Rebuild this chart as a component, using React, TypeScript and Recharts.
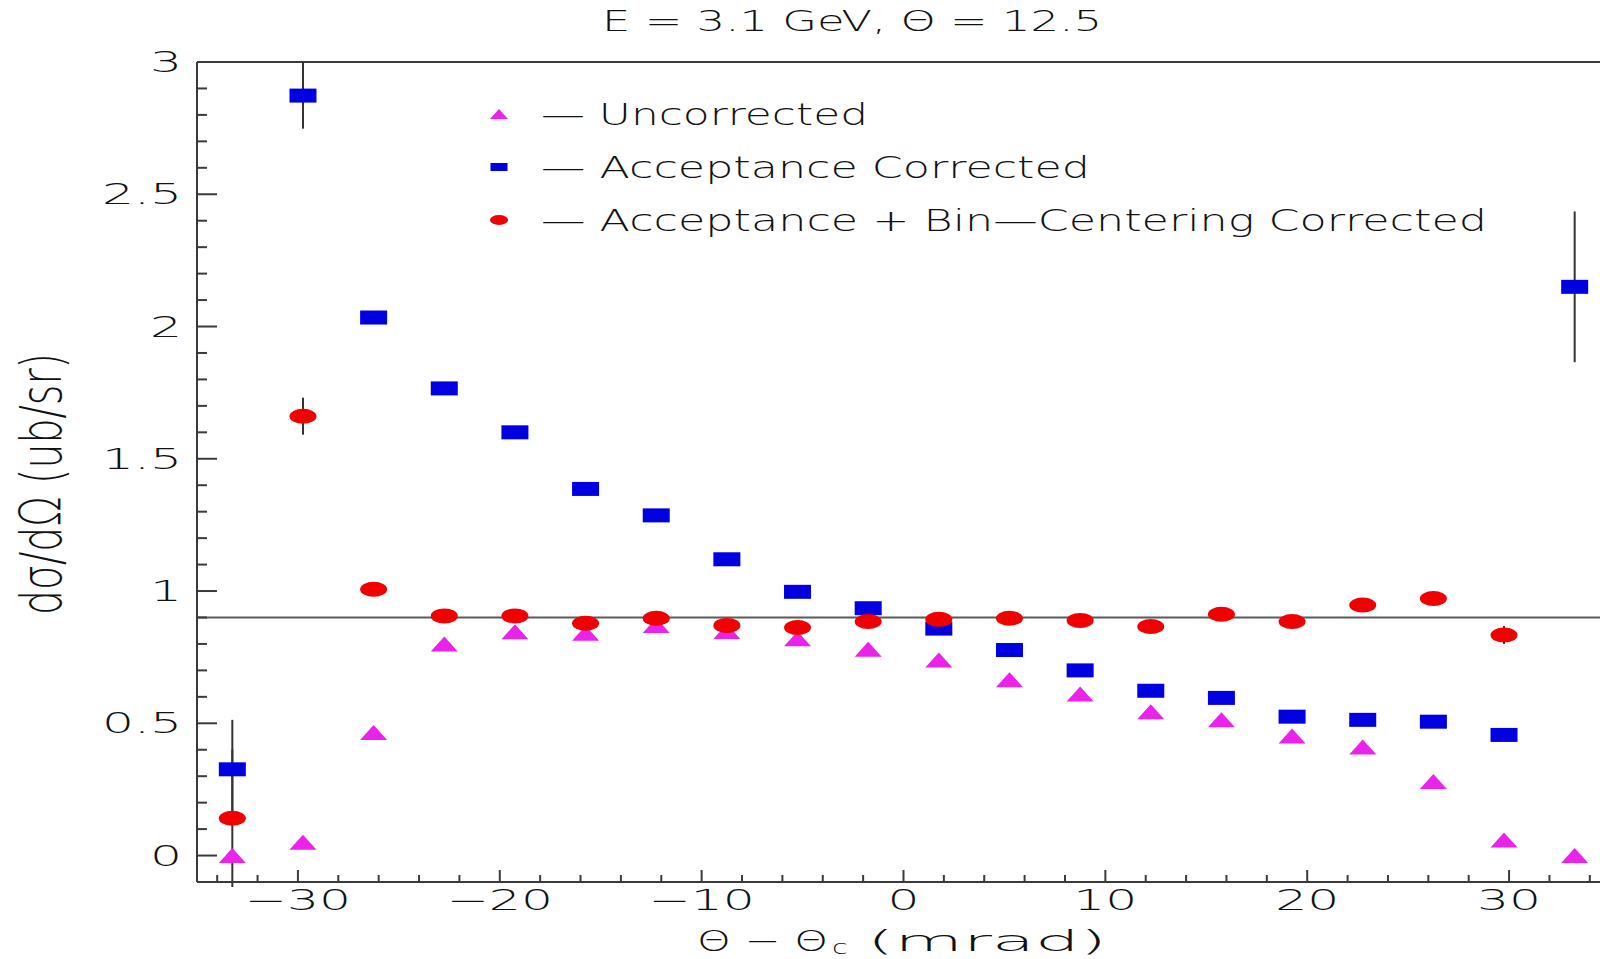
import React from "react";
import {
  ScatterChart,
  Scatter,
  XAxis,
  YAxis,
  ReferenceLine,
  ErrorBar,
} from "recharts";

// bin centres in mrad (3.5 mrad bins)
const binCenters = [
  -33.25, -29.75, -26.25, -22.75, -19.25, -15.75, -12.25, -8.75, -5.25, -1.75,
  1.75, 5.25, 8.75, 12.25, 15.75, 19.25, 22.75, 26.25, 29.75, 33.25,
];

const uncorrected = [
  0.0, 0.05, 0.465, 0.8, 0.846, 0.84, 0.87, 0.847, 0.82, 0.78, 0.739, 0.665,
  0.611, 0.544, 0.513, 0.452, 0.41, 0.28, 0.059, 0.0,
];

const acceptance = [
  0.326, 2.873, 2.034, 1.766, 1.6, 1.386, 1.286, 1.12, 0.997, 0.935, 0.858,
  0.777, 0.7, 0.623, 0.596, 0.525, 0.513, 0.506, 0.456, 2.15,
];
const acceptanceErr = [
  0.187, 0.125, 0, 0, 0, 0, 0, 0, 0, 0, 0, 0, 0, 0, 0, 0, 0, 0, 0, 0.285,
];

const binCentered = [
  0.141, 1.661, 1.007, 0.906, 0.906, 0.878, 0.897, 0.87, 0.862, 0.885, 0.893,
  0.897, 0.889, 0.866, 0.912, 0.885, 0.947, 0.972, 0.834, null,
];
const binCenteredErr = [
  0.26, 0.07, 0, 0, 0, 0, 0, 0, 0, 0, 0, 0, 0, 0, 0, 0, 0, 0, 0.034, 0,
];

const xTicks = [
  -34, -32, -30, -28, -26, -24, -22, -20, -18, -16, -14, -12, -10, -8, -6, -4,
  -2, 0, 2, 4, 6, 8, 10, 12, 14, 16, 18, 20, 22, 24, 26, 28, 30, 32, 34,
];
const yTicks = [
  0, 0.1, 0.2, 0.3, 0.4, 0.5, 0.6, 0.7, 0.8, 0.9, 1, 1.1, 1.2, 1.3, 1.4, 1.5,
  1.6, 1.7, 1.8, 1.9, 2, 2.1, 2.2, 2.3, 2.4, 2.5, 2.6, 2.7, 2.8, 2.9, 3,
];

const referenceLevel = 0.9;
const legendLabels = [
  "— Uncorrected",
  "— Acceptance Corrected",
  "— Acceptance + Bin—Centering Corrected",
];
const legendWidths = [327, 549, 946];

const MAGENTA = "#ea22ea";
const BLUE = "#0000e0";
const RED = "#f00000";
const AXIS = "#3a3a3a";
const FONT = "DejaVu Sans";
const WEIGHT = 200;

const toPoints = (vals: (number | null)[], errs?: number[]) =>
  binCenters
    .map((x, i) => ({ x, y: vals[i], err: errs ? errs[i] : 0 }))
    .filter((p) => p.y !== null);

const uncorrectedData = toPoints(uncorrected);
const acceptanceData = toPoints(acceptance, acceptanceErr);
const binCenteredData = toPoints(binCentered, binCenteredErr);
// error bars are drawn on top of the markers, as in the original
const errorData = [...acceptanceData, ...binCenteredData].filter((p) => p.err > 0);

const Triangle = (p: any) => (
  <polygon
    points={`${p.cx - 13.5},${p.cy + 7.5} ${p.cx + 13.5},${p.cy + 7.5} ${p.cx},${p.cy - 7.5}`}
    fill={MAGENTA}
  />
);
const Square = (p: any) => (
  <rect x={p.cx - 13.5} y={p.cy - 7} width={27} height={14} fill={BLUE} />
);
const Ellipse = (p: any) => (
  <ellipse cx={p.cx} cy={p.cy} rx={13.5} ry={7.5} fill={RED} />
);
const Nothing = () => <g />;

const fmtY = (v: number) => String(Math.round(v * 10) / 10);
const fmtX = (v: number) => (v < 0 ? "\u2212" + Math.abs(v) : String(v));

const YTick = ({ x, y, payload }: any) => {
  const v = payload.value;
  const major = Math.abs(v * 2 - Math.round(v * 2)) < 1e-6;
  return (
    <g>
      <line x1={x} x2={x + (major ? 20 : 10)} y1={y} y2={y} stroke={AXIS} strokeWidth={2} />
      {major && (
        <text
          transform={`translate(${x - 15},${y + 10}) scale(1.8,1)`}
          textAnchor="end"
          fontSize={28}
          fontFamily={FONT}
          fontWeight={WEIGHT}
          fill="#111"
        >
          {fmtY(v)}
        </text>
      )}
    </g>
  );
};

const XTick = ({ x, y, payload }: any) => {
  const v = payload.value;
  const major = v % 10 === 0;
  return (
    <g>
      <line x1={x} x2={x} y1={y} y2={y - (major ? 12 : 7)} stroke={AXIS} strokeWidth={2} />
      {major && (
        <text
          transform={`translate(${x},${y + 28}) scale(1.8,1)`}
          textAnchor="middle"
          fontSize={28}
          fontFamily={FONT}
          fontWeight={WEIGHT}
          fill="#111"
        >
          {fmtX(v)}
        </text>
      )}
    </g>
  );
};

export default function App() {
  return (
    <div
      style={{
        position: "fixed",
        left: 0,
        top: 0,
        width: 1600,
        height: 959,
        overflow: "hidden",
        background: "#fff",
      }}
    >
      <ScatterChart
        width={1640}
        height={959}
        margin={{ top: 62, right: 30, bottom: 0, left: 0 }}
      >
        <XAxis
          dataKey="x"
          type="number"
          domain={[-35, 35]}
          ticks={xTicks}
          interval={0}
          tickSize={0}
          tickMargin={0}
          tickLine={false}
          axisLine={{ stroke: AXIS, strokeWidth: 2 }}
          tick={<XTick />}
          height={77}
          allowDataOverflow
        />
        <YAxis
          dataKey="y"
          type="number"
          domain={[-0.1, 3]}
          ticks={yTicks}
          interval={0}
          tickSize={0}
          tickMargin={0}
          tickLine={false}
          axisLine={{ stroke: AXIS, strokeWidth: 2 }}
          tick={<YTick />}
          width={197}
          allowDataOverflow
        />
        <ReferenceLine y={3} stroke={AXIS} strokeWidth={2} />
        <ReferenceLine y={referenceLevel} stroke="#5a5a5a" strokeWidth={2} />
        <Scatter data={uncorrectedData} shape={Triangle} isAnimationActive={false} />
        <Scatter data={acceptanceData} shape={Square} isAnimationActive={false} />
        <Scatter data={binCenteredData} shape={Ellipse} isAnimationActive={false} />
        <Scatter data={errorData} shape={Nothing} isAnimationActive={false}>
          <ErrorBar
            dataKey="err"
            direction="y"
            width={0}
            stroke="#333"
            strokeWidth={2}
            isAnimationActive={false}
          />
        </Scatter>
      </ScatterChart>

      <svg
        width={1600}
        height={959}
        style={{ position: "absolute", left: 0, top: 0, pointerEvents: "none" }}
        fontFamily={FONT}
        fontWeight={WEIGHT}
        fill="#111"
      >
        <text x={602} y={31} fontSize={29} textLength={500} lengthAdjust="spacingAndGlyphs">
          E = 3.1 GeV, Θ = 12.5
        </text>

        {/* legend */}
        <polygon points="490,119 508,119 499,109" fill={MAGENTA} />
        <rect x={490.5} y={163} width={17} height={8} fill={BLUE} />
        <ellipse cx={499} cy={220} rx={9} ry={5} fill={RED} />
        {legendLabels.map((t, i) => (
          <text
            key={t}
            x={541}
            y={125 + i * 53}
            fontSize={30}
            textLength={legendWidths[i]}
            lengthAdjust="spacingAndGlyphs"
          >
            {t}
          </text>
        ))}

        {/* x axis title */}
        <text x={697} y={951} fontSize={29} textLength={131} lengthAdjust="spacingAndGlyphs">
          Θ − Θ
        </text>
        <text transform="translate(832,954) scale(1.5,1)" fontSize={19}>
          c
        </text>
        <text x={867} y={951} fontSize={29} textLength={240} lengthAdjust="spacingAndGlyphs">
          (mrad)
        </text>

        {/* y axis title */}
        <text
          transform="translate(61,484) rotate(-90) scale(1,1.9)"
          textAnchor="middle"
          fontSize={30}
          textLength={262}
          lengthAdjust="spacingAndGlyphs"
        >
          dσ/dΩ (ub/sr)
        </text>
      </svg>
    </div>
  );
}
